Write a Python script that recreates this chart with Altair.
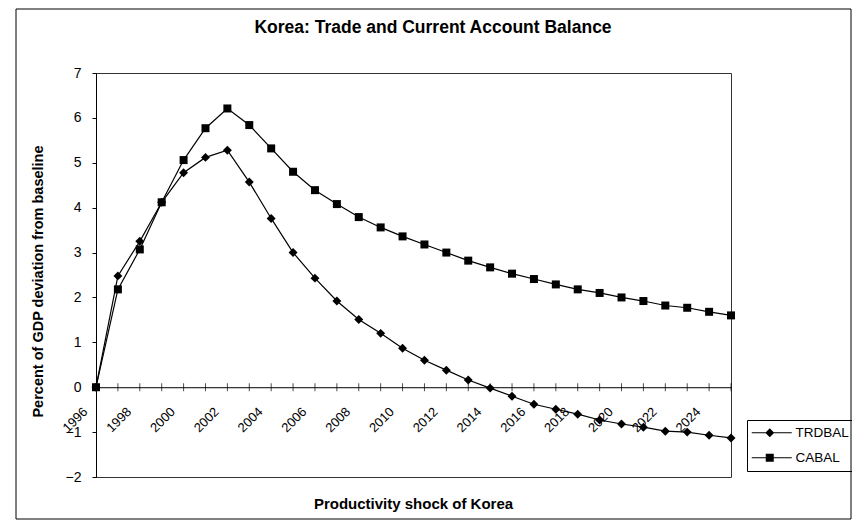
import altair as alt
import pandas as pd

# ---- data ----
years = list(range(1996, 2026))
trdbal = [0, 2.48, 3.25, 4.12, 4.78, 5.12, 5.28, 4.57, 3.76, 3.0,
          2.43, 1.92, 1.51, 1.2, 0.87, 0.6, 0.38, 0.16, -0.02, -0.2,
          -0.38, -0.49, -0.6, -0.73, -0.82, -0.89, -0.98, -1.0, -1.07, -1.13]
cabal = [0, 2.18, 3.07, 4.12, 5.06, 5.77, 6.21, 5.84, 5.32, 4.8,
         4.39, 4.08, 3.79, 3.56, 3.36, 3.18, 3.0, 2.82, 2.67, 2.53,
         2.41, 2.29, 2.18, 2.1, 2.0, 1.92, 1.82, 1.77, 1.68, 1.6]
series_names = ["TRDBAL", "CABAL"]
x_tick_labels = list(range(1996, 2025, 2))
y_tick_values = list(range(-2, 8))
title_text = "Korea: Trade and Current Account Balance"
x_title = "Productivity shock of Korea"
y_title = "Percent of GDP deviation from baseline"

df = pd.DataFrame({
    "year": years * 2,
    "series": [series_names[0]] * len(years) + [series_names[1]] * len(years),
    "value": trdbal + cabal,
})
one = pd.DataFrame({"k": [0]})
tick_df = pd.DataFrame({"year": years})

FONT = "Liberation Sans"
W, H = 635, 404
zero_offset = -H * 2 / 9

xscale = alt.Scale(domain=[1996, 2025], nice=False, zero=False)
yscale = alt.Scale(domain=[-2, 7], nice=False, zero=False)

x_enc = alt.X(
    "year:Q", scale=xscale,
    axis=alt.Axis(
        values=x_tick_labels, format="d", labelAngle=-45, labelAlign="right",
        labelBaseline="middle", labelPadding=22, labelOffset=-11,
        labelOverlap=False, labelFlush=False, ticks=False, grid=False,
        domainColor="black", domainWidth=1, offset=zero_offset,
        labelFont=FONT, labelFontSize=13, labelColor="black",
        title=x_title, titleFont=FONT, titleFontSize=15, titleFontWeight="bold",
        titleColor="black", titleX=317, titleY=116, titleBaseline="middle",
        titleAlign="center",
    ),
)
y_enc = alt.Y(
    "value:Q", scale=yscale,
    axis=alt.Axis(
        values=y_tick_values, format="d", grid=False, tickSize=4,
        tickColor="black", domainColor="black", domainWidth=1,
        labelPadding=11, labelFont=FONT, labelFontSize=14, labelColor="black",
        title=y_title, titleFont=FONT, titleFontSize=14.5, titleFontWeight="bold",
        titleColor="black", titleX=-58, titleY=208, titleAngle=270,
        titleAlign="center", titleBaseline="middle",
    ),
)

frame = alt.Chart(one).mark_rect(
    fillOpacity=0, stroke="black", strokeWidth=1
).encode(
    x=alt.value(-80), x2=alt.value(755), y=alt.value(-64), y2=alt.value(446)
)

title = alt.Chart(one).mark_text(
    text=title_text, font=FONT, fontSize=17.5, fontWeight="bold",
    color="black", align="center", baseline="alphabetic"
).encode(x=alt.value(337), y=alt.value(-40.5))

lines = alt.Chart(df).mark_line(color="black", strokeWidth=1.2).encode(
    x=x_enc, y=y_enc, detail="series:N"
)

tr_pts = alt.Chart(df).transform_filter(
    alt.datum.series == series_names[0]
).mark_point(shape="diamond", filled=True, color="black", size=80, opacity=1).encode(
    x="year:Q", y="value:Q"
)
ca_pts = alt.Chart(df).transform_filter(
    alt.datum.series == series_names[1]
).mark_point(shape="square", filled=True, color="black", size=64, opacity=1).encode(
    x="year:Q", y="value:Q"
)

zero_ticks = alt.Chart(tick_df).mark_tick(
    orient="vertical", color="black", size=8, thickness=1
).encode(x="year:Q", y=alt.datum(0))

# legend glyphs: a thin filled bar (the line) plus the marker
p_tr = "M-1.6,-0.11H6.4V0.11H-1.6ZM2,-0.9L2.9,0L2,0.9L1.1,0Z"
p_ca = "M-1.6,-0.11H6.4V0.11H-1.6ZM1.2,-0.8H2.8V0.8H1.2Z"

legend_layer = alt.Chart(df).mark_point(
    filled=True, color="black", opacity=0, size=100
).encode(
    x="year:Q", y="value:Q",
    shape=alt.Shape(
        "series:N",
        scale=alt.Scale(domain=series_names, range=[p_tr, p_ca]),
        legend=alt.Legend(
            title=None, orient="none", legendX=651, legendY=347,
            strokeColor="black", padding=6, symbolSize=100, symbolOpacity=1,
            symbolFillColor="black", symbolStrokeWidth=0,
            labelFont=FONT, labelFontSize=13.5,
            labelColor="black", labelOffset=29, rowPadding=10,
            symbolOffset=0,
        ),
    ),
)

chart = alt.layer(
    frame, lines, zero_ticks, tr_pts, ca_pts, legend_layer, title
).properties(
    width=W, height=H,
    padding={"left": 88, "top": 65, "right": 121, "bottom": 43},
    autosize=alt.AutoSizeParams(type="none"),
).configure_view(stroke="#333", strokeWidth=1)

chart.save("out.html", embed_options={"renderer": "svg", "actions": False})
